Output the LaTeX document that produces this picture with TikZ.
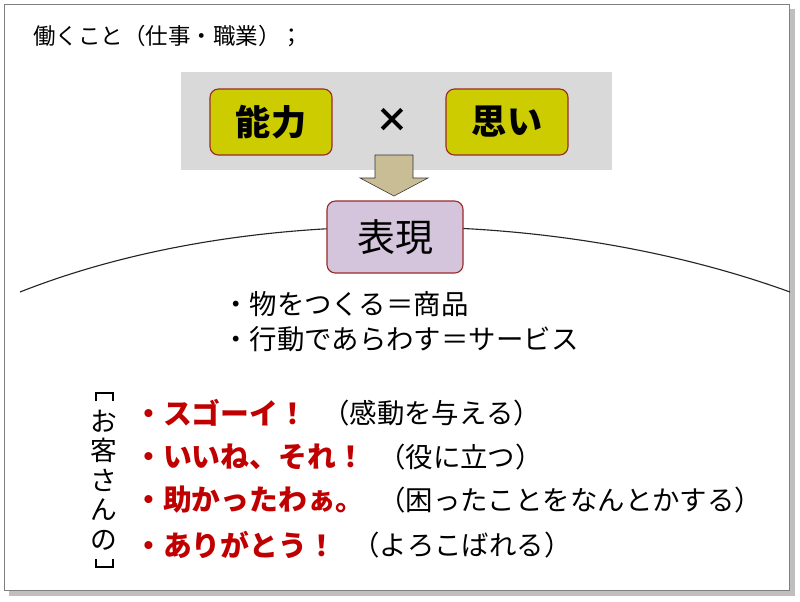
\documentclass[tikz,border=0pt]{standalone}
\usepackage{fontspec}
\setmainfont{Noto Sans CJK JP}
\usetikzlibrary{positioning}
\definecolor{olivebox}{HTML}{CCCC00}
\definecolor{lavbox}{HTML}{D4C4DC}
\definecolor{tanarrow}{HTML}{C8BD95}
\definecolor{boxedge}{HTML}{9A2A2A}
\definecolor{cheer}{HTML}{C00000}

\begin{document}
\begin{tikzpicture}[
    x=0.025cm, y=-0.025cm,
    keybox/.style={rectangle, rounded corners=6pt, draw=boxedge, thick, fill=olivebox, minimum width=3.05cm, minimum height=1.65cm, font=\fontsize{25}{30}\selectfont\bfseries},
    resultbox/.style={keybox, fill=lavbox, minimum width=3.4cm, minimum height=1.8cm, font=\fontsize{27}{32}\selectfont},
    plain/.style={anchor=west, inner sep=0pt, font=\fontsize{19.5}{23}\selectfont},
    reason/.style={anchor=west, inner sep=0pt, font=\fontsize{19.5}{23}\selectfont},
    shout/.style={anchor=west, inner sep=0pt, text=cheer, font=\fontsize{20.5}{25}\selectfont\bfseries}
]

% Frame
\useasboundingbox (0,0) rectangle (800,601);
\fill[black!25] (9,9) rectangle (795,596);
\draw[fill=white, draw=black!50] (4,4) rectangle (789,590);

% Title
\node (title) [plain, font=\fontsize{16}{19}\selectfont] at (33,36) {働くこと（仕事・職業）；};

% Ability x feeling
\fill[black!15] (181,72) rectangle (612,170);
\node (ability) [keybox] at (271,122) {能力};
\node (times) at (392,120) {\fontsize{24}{28}\selectfont\bfseries ×};
\node (feeling) [keybox] at (507,122) {思い};

% Horizon
\draw[thick, black!85] (20,292) .. controls (240,205) and (550,205) .. (790,292);

% Arrow
\draw[fill=tanarrow, draw=black!80] (375,155) -- (413,155) -- (413,178) -- (428,178)
  -- (394,196) -- (360,178) -- (375,178) -- cycle;

% Expression
\node (expression) [resultbox] at (395,237) {表現};

% Forms of expression
\node (goods) [plain] at (222,304) {・物をつくる＝商品};
\node (service) [plain] at (222,339) {・行動であらわす＝サービス};

% Customer voice
\node (customer) [inner sep=0pt, align=center, font=\fontsize{19}{21}\selectfont] at (104,480) {お\\客\\さ\\ん\\の};
\draw[thick] (96,401) -- (96,393) -- (113,393) -- (113,401);
\draw[thick] (96,559) -- (96,567) -- (113,567) -- (113,559);

\node (wow) [shout] at (134,413) {・スゴーイ！};
\node (wowwhy) [reason] at (322,413) {（感動を与える）};
\node (nice) [shout] at (134,457) {・いいね、それ！};
\node (nicewhy) [reason] at (378,457) {（役に立つ）};
\node (saved) [shout] at (134,500) {・助かったわぁ。};
\node (savedwhy) [reason] at (378,500) {（困ったことをなんとかする）};
\node (thanks) [shout] at (134,545) {・ありがとう！};
\node (thankswhy) [reason] at (352,545) {（よろこばれる）};

\end{tikzpicture}
\end{document}
